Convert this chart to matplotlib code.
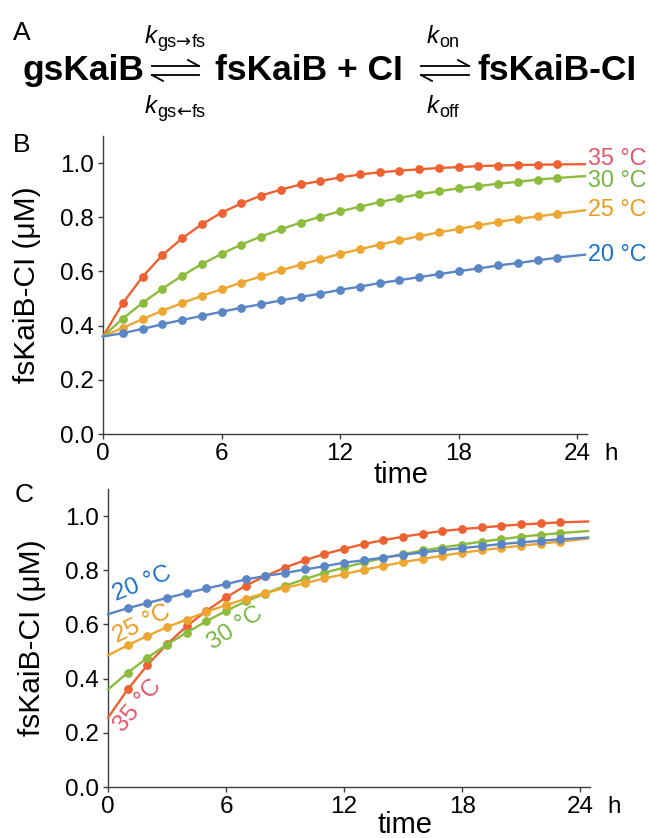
import matplotlib
matplotlib.use("Agg")
import matplotlib.pyplot as plt
from matplotlib.lines import Line2D

plt.rcParams['font.family'] = ['Liberation Sans', 'DejaVu Sans']

# time points (h); markers are drawn at 1..23
t = [0, 1, 2, 3, 4, 5, 6, 7, 8, 9, 10, 11, 12, 13, 14, 15, 16, 17, 18, 19, 20,
     21, 22, 23, 24.4]

# panel B: all start from the same level
b_35 = [0.36, 0.483, 0.580, 0.660, 0.722, 0.774, 0.817, 0.851, 0.880, 0.902, 0.921,
        0.934, 0.947, 0.958, 0.966, 0.972, 0.977, 0.982, 0.985, 0.989, 0.991,
        0.993, 0.994, 0.995, 0.996]
b_30 = [0.36, 0.426, 0.484, 0.536, 0.584, 0.627, 0.665, 0.699, 0.729, 0.756, 0.780,
        0.802, 0.822, 0.839, 0.856, 0.871, 0.885, 0.896, 0.907, 0.915, 0.924,
        0.931, 0.939, 0.945, 0.952]
b_25 = [0.36, 0.392, 0.424, 0.455, 0.483, 0.510, 0.534, 0.559, 0.582, 0.604, 0.625,
        0.645, 0.665, 0.682, 0.699, 0.715, 0.730, 0.744, 0.757, 0.770, 0.783,
        0.794, 0.803, 0.813, 0.826]
b_20 = [0.36, 0.372, 0.388, 0.405, 0.421, 0.436, 0.451, 0.466, 0.479, 0.493, 0.506,
        0.518, 0.532, 0.544, 0.557, 0.568, 0.579, 0.590, 0.601, 0.611, 0.622,
        0.631, 0.641, 0.651, 0.662]

# panel C: different starting levels
c_35 = [0.256, 0.360, 0.450, 0.527, 0.594, 0.650, 0.700, 0.743, 0.779, 0.810, 0.837,
        0.860, 0.879, 0.897, 0.911, 0.924, 0.935, 0.945, 0.952, 0.958, 0.964,
        0.969, 0.973, 0.977, 0.980]
c_30 = [0.360, 0.422, 0.477, 0.526, 0.570, 0.612, 0.650, 0.685, 0.714, 0.743, 0.767,
        0.791, 0.810, 0.829, 0.845, 0.860, 0.873, 0.884, 0.895, 0.906, 0.915,
        0.924, 0.931, 0.937, 0.945]
c_25 = [0.486, 0.523, 0.558, 0.590, 0.618, 0.647, 0.671, 0.695, 0.716, 0.735, 0.752,
        0.770, 0.786, 0.802, 0.816, 0.830, 0.842, 0.854, 0.865, 0.874, 0.883,
        0.891, 0.898, 0.906, 0.917]
c_20 = [0.638, 0.660, 0.679, 0.698, 0.716, 0.733, 0.749, 0.766, 0.779, 0.790, 0.803,
        0.815, 0.828, 0.837, 0.847, 0.857, 0.866, 0.874, 0.882, 0.889, 0.897,
        0.903, 0.909, 0.914, 0.921]

temps = ['35 °C', '30 °C', '25 °C', '20 °C']
line_colors = ['#ee6132', '#8cbb3d', '#eea633', '#5b86c6']
text_colors = ['#e5566c', '#78b642', '#ec9a1c', '#1a72c7']

xticks = [0, 6, 12, 18, 24]
yticks = [0.0, 0.2, 0.4, 0.6, 0.8, 1.0]

W, H = 649, 838
fig = plt.figure(figsize=(W / 100, H / 100), dpi=100)


def fx(x):
    return x / W


def fy(y):
    return 1 - y / H


def style_axes(ax, time_y):
    ax.set_xlim(0, 24.5)
    ax.set_ylim(0, 1.1)
    ax.set_xticks(xticks)
    ax.set_yticks(yticks)
    ax.set_yticklabels(['%.1f' % v for v in yticks])
    for s in ['top', 'right']:
        ax.spines[s].set_visible(False)
    for s in ['left', 'bottom']:
        ax.spines[s].set_color('#3c3c3c')
        ax.spines[s].set_linewidth(1.0)
    ax.tick_params(direction='out', length=3.5, width=1.0, color='#3c3c3c',
                   labelsize=17.5, pad=3)
    ax.set_ylabel('fsKaiB-CI (μM)', fontsize=21.5)
    ax.yaxis.set_label_coords(-0.128, 0.5)
    ax.set_xlabel('time', fontsize=21)
    ax.xaxis.set_label_coords(0.616, time_y)
    ax.annotate('h', xy=(1, 0), xycoords='axes fraction', xytext=(17.5, -6.5),
                textcoords='offset points', ha='center', va='top', fontsize=17.5)


def draw_series(ax, series):
    for ys, c in zip(series, line_colors):
        ax.plot(t, ys, color=c, lw=1.7, marker='o', ms=5.3,
                markevery=slice(1, 24), clip_on=False, zorder=3)


# ---- panel B ----
axB = fig.add_axes([fx(103), fy(434), fx(587) - fx(103), fy(136) - fy(434)])
draw_series(axB, [b_35, b_30, b_25, b_20])
style_axes(axB, -0.092)
for name, yv, c in zip(temps, [1.018, 0.934, 0.830, 0.664], text_colors):
    axB.text(24.55, yv, name, color=c, fontsize=16.8, ha='left', va='center',
             clip_on=False)

# ---- panel C ----
axC = fig.add_axes([fx(108), fy(787), fx(590) - fx(108), fy(489) - fy(787)])
draw_series(axC, [c_35, c_30, c_25, c_20])
style_axes(axC, -0.082)
c_label_pos = [(1.5, 0.30, 50), (6.45, 0.585, 33), (1.7, 0.600, 26), (1.75, 0.748, 22)]
for name, (xx, yy, rot), c in zip(temps, c_label_pos, text_colors):
    axC.text(xx, yy, name, color=c, fontsize=17.5, rotation=rot,
             rotation_mode='anchor', ha='center', va='center')

# ---- panel letters ----
fig.text(fx(13), fy(40), 'A', fontsize=19, ha='left', va='baseline')
fig.text(fx(13), fy(152), 'B', fontsize=19, ha='left', va='baseline')
fig.text(fx(15), fy(502), 'C', fontsize=19, ha='left', va='baseline')

# ---- panel A: reaction scheme ----
base = 80
eq_fs = 25.5
fig.text(fx(83), fy(base), 'gsKaiB', fontsize=eq_fs, fontweight='bold',
         ha='center', va='baseline')
fig.text(fx(309), fy(base), 'fsKaiB + CI', fontsize=eq_fs, fontweight='bold',
         ha='center', va='baseline')
fig.text(fx(557), fy(base), 'fsKaiB-CI', fontsize=eq_fs, fontweight='bold',
         ha='center', va='baseline')


def eq_arrow(x0, x1):
    yu, yl = 66, 75
    kw = dict(color='black', lw=1.3, transform=fig.transFigure)
    fig.add_artist(Line2D([fx(x0), fx(x1)], [fy(yu), fy(yu)], **kw))
    fig.add_artist(Line2D([fx(x1), fx(x1 - 11)], [fy(yu), fy(yu - 6)], **kw))
    fig.add_artist(Line2D([fx(x0), fx(x1)], [fy(yl), fy(yl)], **kw))
    fig.add_artist(Line2D([fx(x0), fx(x0 + 11)], [fy(yl), fy(yl + 6)], **kw))


eq_arrow(152, 199)
eq_arrow(421, 469)


def rate(xk, yb, parts):
    fig.text(fx(xk), fy(yb), 'k', fontsize=17.5, style='italic', ha='left',
             va='baseline')
    x = xk + 12
    for txt, w in parts:
        fam = ['DejaVu Sans'] if txt in ('→', '←') else ['Liberation Sans']
        fig.text(fx(x), fy(yb + 4), txt, fontsize=13, family=fam, ha='left',
                 va='baseline')
        x += w


rate(145, 43, [('gs', 19), ('→', 16), ('fs', 0)])
rate(145, 113, [('gs', 19), ('←', 16), ('fs', 0)])
rate(427, 43, [('on', 0)])
rate(427, 113, [('off', 0)])

fig.savefig('out.png', dpi=100)
